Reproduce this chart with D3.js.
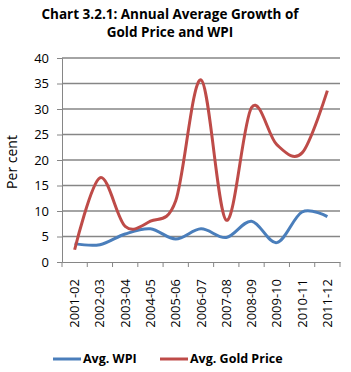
<!DOCTYPE html>
<html>
<head>
<meta charset="utf-8">
<script src="https://cdn.jsdelivr.net/npm/d3@7"></script>
<style>
  body { margin: 0; background: #fff; }
  text { font-family: "Open Sans", "DejaVu Sans", sans-serif; fill: #000; }
</style>
</head>
<body>
<script>
// Annual average growth, per cent
const years = ["2001-02", "2002-03", "2003-04", "2004-05", "2005-06", "2006-07",
    "2007-08", "2008-09", "2009-10", "2010-11", "2011-12"]
const wpi = [3.6, 3.4, 5.5, 6.5, 4.5, 6.5, 4.8, 8.0, 3.8, 9.8, 8.9]
const gold = [2.4, 16.5, 7.0, 8.0, 12.0, 35.7, 8.2, 30.3, 23.0, 21.4, 33.6]
const yTicks = [0, 5, 10, 15, 20, 25, 30, 35, 40]

const width = 351,
    height = 372
const margin = { top: 58, right: 11, bottom: 110, left: 62 }

const svg = d3.select("body").append("svg")
    .attr("width", width)
    .attr("height", height)

const x = d3.scaleBand()
    .domain(years)
    .range([margin.left, width - margin.right])
const y = d3.scaleLinear()
    .domain([0, 40])
    .range([height - margin.bottom, margin.top])

// title
svg.append("text")
    .attr("x", 170).attr("y", 19)
    .attr("text-anchor", "middle")
    .attr("font-size", 13.5).attr("font-weight", "bold")
    .text("Chart 3.2.1: Annual Average Growth of")
svg.append("text")
    .attr("x", 170).attr("y", 37)
    .attr("text-anchor", "middle")
    .attr("font-size", 13.5).attr("font-weight", "bold")
    .text("Gold Price and WPI")

// gridlines
svg.append("g")
    .selectAll("line")
    .data(yTicks.filter(d => d > 0))
    .join("line")
    .attr("x1", margin.left).attr("x2", width - margin.right)
    .attr("y1", d => y(d)).attr("y2", d => y(d))
    .attr("stroke", "#868686").attr("stroke-width", 1.5)

// y axis
const yAxis = svg.append("g")
    .attr("transform", `translate(${margin.left},0)`)
    .call(d3.axisLeft(y).tickValues(yTicks).tickSize(5).tickPadding(8))
yAxis.selectAll("line, path").attr("stroke", "#868686")
yAxis.selectAll("text")
    .attr("font-size", 13)
    .attr("font-family", "Open Sans, sans-serif")

// x axis
const xAxis = svg.append("g")
    .attr("transform", `translate(0,${y(0)})`)
    .call(d3.axisBottom(x).tickSize(0).tickPadding(0))
xAxis.select("path").attr("stroke", "#868686")
xAxis.selectAll(".tick line").remove()
xAxis.selectAll("text")
    .attr("font-size", 13)
    .attr("font-family", "Open Sans, sans-serif")
    .attr("transform", "rotate(-90)")
    .attr("text-anchor", "end")
    .attr("dy", "0.35em")
    .attr("x", -17).attr("y", 0)
// tick marks at category boundaries
svg.append("g")
    .selectAll("line")
    .data(d3.range(years.length + 1))
    .join("line")
    .attr("x1", i => margin.left + i * x.step())
    .attr("x2", i => margin.left + i * x.step())
    .attr("y1", y(0)).attr("y2", y(0) + 5)
    .attr("stroke", "#868686")

// y title
svg.append("text")
    .attr("transform", `translate(17,${(y(0) + y(40)) / 2 + 2}) rotate(-90)`)
    .attr("text-anchor", "middle")
    .attr("font-size", 14)
    .text("Per cent")

const line = d3.line()
    .x((d, i) => x(years[i]) + x.bandwidth() / 2)
    .y(d => y(d))
    .curve(d3.curveCardinal.tension(0))

svg.append("path").datum(wpi)
    .attr("d", line).attr("fill", "none")
    .attr("stroke", "#4a7ebb").attr("stroke-width", 3)
svg.append("path").datum(gold)
    .attr("d", line).attr("fill", "none")
    .attr("stroke", "#be4b48").attr("stroke-width", 3)

// legend
const legendItems = [
    { name: "Avg. WPI", color: "#4a7ebb", x: 53 },
    { name: "Avg. Gold Price", color: "#be4b48", x: 160 }
]
const lg = svg.append("g").selectAll("g")
    .data(legendItems)
    .join("g")
    .attr("transform", d => `translate(${d.x},359)`)
lg.append("line")
    .attr("x1", 0).attr("x2", 28)
    .attr("stroke", d => d.color).attr("stroke-width", 3)
lg.append("text")
    .attr("x", 30).attr("dy", "0.35em")
    .attr("font-size", 12.5).attr("font-weight", "bold")
    .text(d => d.name)
</script>
</body>
</html>
